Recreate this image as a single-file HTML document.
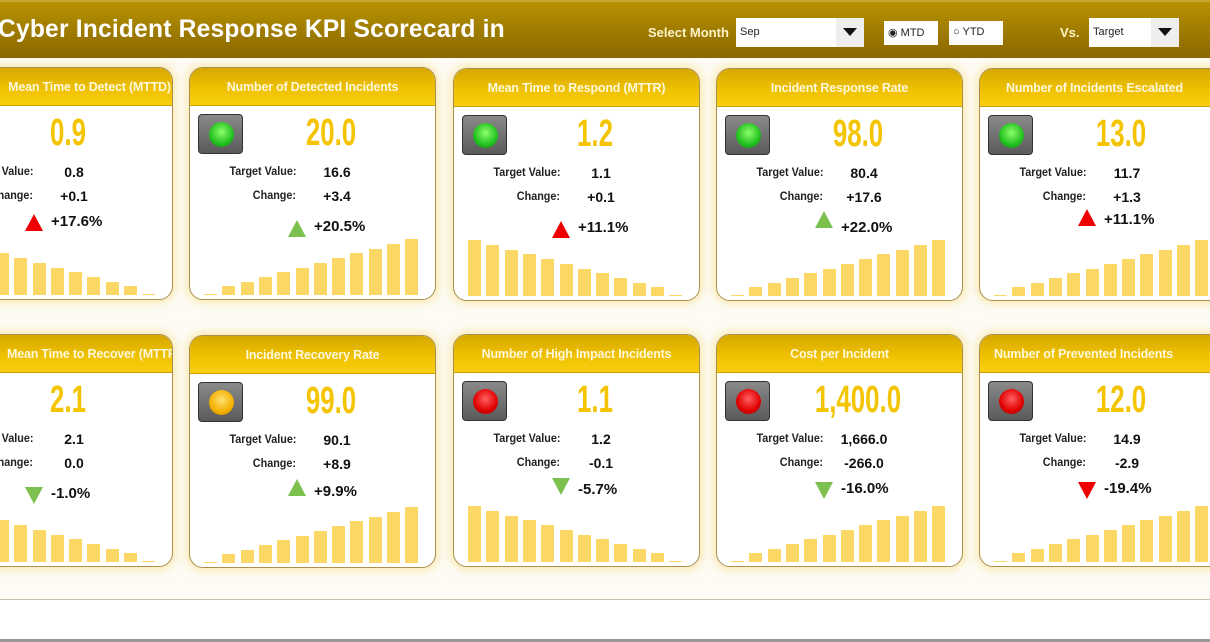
<!DOCTYPE html>
<html><head><meta charset="utf-8"><style>
*{margin:0;padding:0;box-sizing:border-box}
body{width:1210px;height:642px;overflow:hidden;background:#fdfbf4;font-family:"Liberation Sans",sans-serif;position:relative}
.hdr{position:absolute;left:0;top:0;width:1210px;height:58px;background:linear-gradient(#b89200,#a07c00 50%,#8a6800);border-top:2px solid #c8a830}
.title{position:absolute;left:-2px;top:14px;color:#fff;font-weight:bold;font-size:24.6px;white-space:nowrap;letter-spacing:0.2px}
.lbl{position:absolute;color:#fff3c8;font-weight:bold;font-size:13px}
.box{position:absolute;background:#fff;font-size:11px;color:#222;padding:8px 0 0 4px}
.dd{position:absolute;right:0;top:0;bottom:0;width:28px;background:#eee}
.dd:after{content:"";position:absolute;left:7px;top:10px;border-left:7px solid transparent;border-right:7px solid transparent;border-top:8px solid #111}
.card{position:absolute;width:247px;height:233px;background:#fff;border:1px solid #a89050;border-radius:14px;box-shadow:0 0 8px 3px rgba(250,220,120,.5);overflow:hidden}
.ch{height:38px;background:linear-gradient(#d6a800,#f0c200 60%,#f8cf10);border-bottom:1px solid #c8a000;color:#fff8dc;font-weight:bold;font-size:12.5px;text-align:center;line-height:38px;letter-spacing:-0.2px;white-space:nowrap}
.light{position:absolute;left:8px;top:46px;width:45px;height:40px;background:linear-gradient(#8a8a8a,#5a5a5a);border:1px solid #333;border-radius:4px}
.light i{position:absolute;left:10px;top:7px;width:25px;height:25px;border-radius:50%}
.g i{background:radial-gradient(circle at 50% 40%,#8dff6a,#22c020 60%,#118a10)}
.a i{background:radial-gradient(circle at 50% 40%,#ffe070,#f5b000 60%,#c08000)}
.r i{background:radial-gradient(circle at 50% 40%,#ff6060,#e00000 60%,#a00000)}
.val{position:absolute;left:41px;width:200px;top:44px;text-align:center;font-weight:bold;font-size:38px;color:#f5c400;transform:scaleX(0.68);transform-origin:center}
.tl,.cl{position:absolute;right:139px;font-weight:bold;font-size:12px;color:#222;white-space:nowrap;transform:scaleX(.9);transform-origin:right}
.tv,.cv{position:absolute;left:117px;width:60px;text-align:center;font-weight:bold;font-size:14px;color:#111}
.tl,.tv{top:96px}.cl,.cv{top:120px}
.arr{position:absolute;left:98px;top:152px;width:0;height:0;border-left:9px solid transparent;border-right:9px solid transparent}
.up{border-bottom:17px solid}.dn{border-top:17px solid}
.red.up{border-bottom-color:#e00}.red.dn{border-top-color:#e00}
.grn.up{border-bottom-color:#7cc050}.grn.dn{border-top-color:#7cc050}
.pct{position:absolute;left:124px;top:150px;font-weight:bold;font-size:15px;color:#111}
.bars{position:absolute;left:14px;bottom:4px;width:220px;height:60px}
.bars b{position:absolute;bottom:0;width:13px;background:#fbd865}
.foot{position:absolute;left:0;top:599px;width:1210px;height:43px;background:#fff;border-top:1px solid #c8c0a8}
.foot2{position:absolute;left:0;top:639px;width:1210px;height:3px;background:#999}
</style></head><body>
<div class="hdr">
<div class="title">Cyber Incident Response KPI Scorecard in</div>
<div class="lbl" style="left:648px;top:23px">Select Month</div>
<div class="box" style="left:736px;top:16px;width:128px;height:29px">Sep<div class="dd"></div></div>
<div class="box" style="left:884px;top:19px;width:54px;height:24px;padding-top:5px">&#9673; MTD</div>
<div class="box" style="left:949px;top:19px;width:54px;height:24px;padding-top:5px">&#9675; YTD</div>
<div class="lbl" style="left:1060px;top:23px">Vs.</div>
<div class="box" style="left:1089px;top:16px;width:90px;height:29px">Target<div class="dd"></div></div>
</div>

<div class="card" style="left:-74px;top:67px"><div class="ch" style="padding-left:80px">Mean Time to Detect (MTTD)</div>
<div class="val">0.9</div><div class="tl">Target Value:</div><div class="tv">0.8</div><div class="cl">Change:</div><div class="cv">+0.1</div>
<div class="arr up red" style="top:146px"></div><div class="pct" style="top:145px">+17.6%</div><div class="bars" data-d="-"></div></div>

<div class="card" style="left:189px;top:67px"><div class="ch">Number of Detected Incidents</div><div class="light g"><i></i></div>
<div class="val">20.0</div><div class="tl">Target Value:</div><div class="tv">16.6</div><div class="cl">Change:</div><div class="cv">+3.4</div>
<div class="arr up grn"></div><div class="pct">+20.5%</div><div class="bars" data-d="+"></div></div>

<div class="card" style="left:453px;top:68px"><div class="ch">Mean Time to Respond (MTTR)</div><div class="light g"><i></i></div>
<div class="val">1.2</div><div class="tl">Target Value:</div><div class="tv">1.1</div><div class="cl">Change:</div><div class="cv">+0.1</div>
<div class="arr up red"></div><div class="pct">+11.1%</div><div class="bars" data-d="-"></div></div>

<div class="card" style="left:716px;top:68px"><div class="ch">Incident Response Rate</div><div class="light g"><i></i></div>
<div class="val">98.0</div><div class="tl">Target Value:</div><div class="tv">80.4</div><div class="cl">Change:</div><div class="cv">+17.6</div>
<div class="arr up grn" style="top:142px"></div><div class="pct">+22.0%</div><div class="bars" data-d="+"></div></div>

<div class="card" style="left:979px;top:68px"><div class="ch" style="text-align:left;padding-left:26px">Number of Incidents Escalated</div><div class="light g"><i></i></div>
<div class="val">13.0</div><div class="tl">Target Value:</div><div class="tv">11.7</div><div class="cl">Change:</div><div class="cv">+1.3</div>
<div class="arr up red" style="top:140px"></div><div class="pct" style="top:142px">+11.1%</div><div class="bars" data-d="+"></div></div>

<div class="card" style="left:-74px;top:334px"><div class="ch" style="padding-left:80px">Mean Time to Recover (MTTR)</div>
<div class="val">2.1</div><div class="tl">Target Value:</div><div class="tv">2.1</div><div class="cl">Change:</div><div class="cv">0.0</div>
<div class="arr dn grn"></div><div class="pct">-1.0%</div><div class="bars" data-d="-"></div></div>

<div class="card" style="left:189px;top:335px"><div class="ch">Incident Recovery Rate</div><div class="light a"><i></i></div>
<div class="val">99.0</div><div class="tl">Target Value:</div><div class="tv">90.1</div><div class="cl">Change:</div><div class="cv">+8.9</div>
<div class="arr up grn" style="top:143px"></div><div class="pct" style="top:147px">+9.9%</div><div class="bars" data-d="+"></div></div>

<div class="card" style="left:453px;top:334px"><div class="ch">Number of High Impact Incidents</div><div class="light r"><i></i></div>
<div class="val">1.1</div><div class="tl">Target Value:</div><div class="tv">1.2</div><div class="cl">Change:</div><div class="cv">-0.1</div>
<div class="arr dn grn" style="top:143px"></div><div class="pct" style="top:146px">-5.7%</div><div class="bars" data-d="-"></div></div>

<div class="card" style="left:716px;top:334px"><div class="ch">Cost per Incident</div><div class="light r"><i></i></div>
<div class="val">1,400.0</div><div class="tl">Target Value:</div><div class="tv">1,666.0</div><div class="cl">Change:</div><div class="cv">-266.0</div>
<div class="arr dn grn" style="top:147px"></div><div class="pct" style="top:145px">-16.0%</div><div class="bars" data-d="+"></div></div>

<div class="card" style="left:979px;top:334px"><div class="ch" style="text-align:left;padding-left:14px">Number of Prevented Incidents</div><div class="light r"><i></i></div>
<div class="val">12.0</div><div class="tl">Target Value:</div><div class="tv">14.9</div><div class="cl">Change:</div><div class="cv">-2.9</div>
<div class="arr dn red" style="top:147px"></div><div class="pct" style="top:145px">-19.4%</div><div class="bars" data-d="+"></div></div>

<div class="foot"></div><div class="foot2"></div>
<script>
document.querySelectorAll('.bars').forEach(function(el){
 var inc=el.getAttribute('data-d')=='+';
 var h='';
 for(var i=0;i<12;i++){
  var k=inc?i:11-i;
  var v=k==0?1:4+k*4.7;
  h+='<b style="left:'+(i*18.3)+'px;height:'+v+'px"></b>';
 }
 el.innerHTML=h;
});
</script>
</body></html>
